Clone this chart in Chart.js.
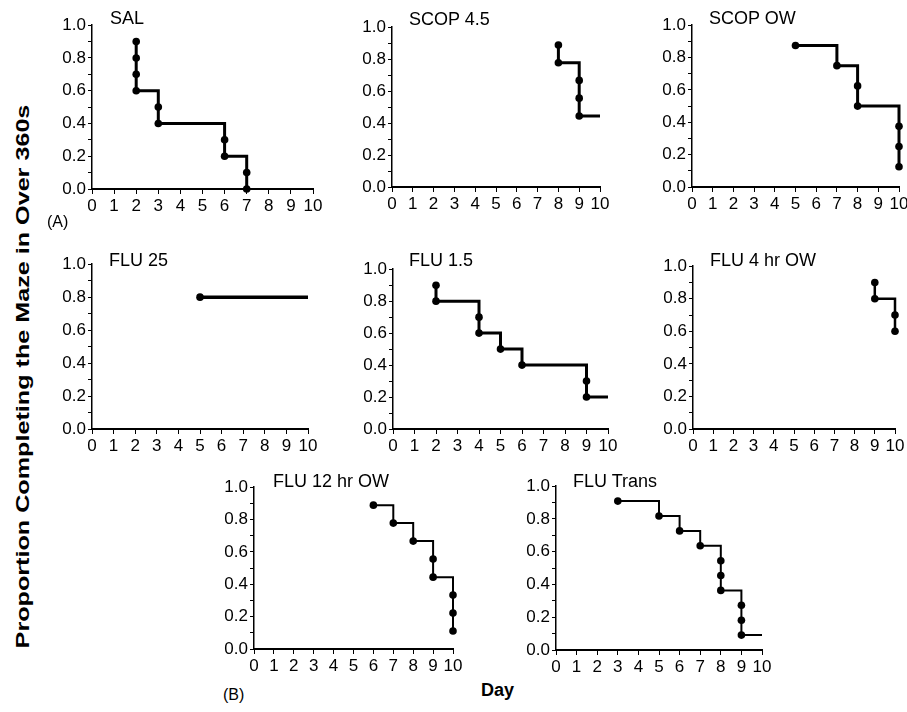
<!DOCTYPE html>
<html>
<head>
<meta charset="utf-8">
<script src="https://cdn.jsdelivr.net/npm/chart.js@4.4.0/dist/chart.umd.min.js"></script>
<style>
html, body { margin: 0; padding: 0; background: #fff; }
body { width: 907px; height: 712px; position: relative; overflow: hidden; font-family: "Liberation Sans", Arial, sans-serif; color: #000; }
canvas.panel { position: absolute; }
.lbl { position: absolute; white-space: nowrap; line-height: 1; }
</style>
</head>
<body>
<script>
// Kaplan-Meier style data, one pair of arrays per panel (day, proportion)
const salDays = [2, 2, 2, 2, 3, 3, 6, 6, 7, 7];
const salProp = [0.9, 0.8, 0.7, 0.6, 0.5, 0.4, 0.3, 0.2, 0.1, 0.0];

const scop45Days = [8, 8, 9, 9, 9];
const scop45Prop = [0.889, 0.778, 0.667, 0.556, 0.444];

const scopOwDays = [5, 7, 8, 8, 10, 10, 10];
const scopOwProp = [0.875, 0.75, 0.625, 0.5, 0.375, 0.25, 0.125];

const flu25Days = [5];
const flu25Prop = [0.8];

const flu15Days = [2, 2, 4, 4, 5, 6, 9, 9];
const flu15Prop = [0.9, 0.8, 0.7, 0.6, 0.5, 0.4, 0.3, 0.2];

const flu4Days = [9, 9, 10, 10];
const flu4Prop = [0.9, 0.8, 0.7, 0.6];

const flu12Days = [6, 7, 8, 9, 9, 10, 10, 10];
const flu12Prop = [0.889, 0.778, 0.667, 0.556, 0.444, 0.333, 0.222, 0.111];

const fluTransDays = [3, 5, 6, 7, 8, 8, 8, 9, 9, 9];
const fluTransProp = [0.909, 0.818, 0.727, 0.636, 0.545, 0.455, 0.364, 0.273, 0.182, 0.091];

// last day of follow-up (curve continues flat without a marker), null if none
const followUpEnd = { sal: null, scop45: 10, scopOw: null, flu25: 10, flu15: 10, flu4: null, flu12: null, fluTrans: 10 };

const dayTicks = [0, 1, 2, 3, 4, 5, 6, 7, 8, 9, 10];

// panel layout: plot box [left, right, top, bottom], title position, curve width
const panels = [
    { key: 'sal', title: 'SAL', days: salDays, prop: salProp, box: [92, 313, 25, 189], tpos: [110, 18], lw: 3 },
    { key: 'scop45', title: 'SCOP 4.5', days: scop45Days, prop: scop45Prop, box: [392, 600, 27, 187], tpos: [409, 19], lw: 3 },
    { key: 'scopOw', title: 'SCOP OW', days: scopOwDays, prop: scopOwProp, box: [692, 899, 25, 187], tpos: [709, 18], lw: 3 },
    { key: 'flu25', title: 'FLU 25', days: flu25Days, prop: flu25Prop, box: [92, 308, 264, 429], tpos: [109, 260], lw: 3.5 },
    { key: 'flu15', title: 'FLU 1.5', days: flu15Days, prop: flu15Prop, box: [393, 608, 269, 429], tpos: [409, 260], lw: 3 },
    { key: 'flu4', title: 'FLU 4 hr OW', days: flu4Days, prop: flu4Prop, box: [693, 895, 266, 429], tpos: [710, 260], lw: 2.5 },
    { key: 'flu12', title: 'FLU 12 hr OW', days: flu12Days, prop: flu12Prop, box: [254, 453, 487, 649], tpos: [273, 481], lw: 2 },
    { key: 'fluTrans', title: 'FLU Trans', days: fluTransDays, prop: fluTransProp, box: [556, 762, 486, 650], tpos: [573, 481], lw: 2 }
];

const YW = 40, XH = 26, PT = 12, PR = 14;
const FONT = '"Liberation Sans", Arial, sans-serif';

function addLabel(text, x, y, css) {
    const d = document.createElement('div');
    d.className = 'lbl';
    d.textContent = text;
    d.style.left = x + 'px';
    d.style.top = y + 'px';
    Object.assign(d.style, css || {});
    document.body.appendChild(d);
    return d;
}

panels.forEach(p => {
    const [l, r, t, b] = p.box;
    const cv = document.createElement('canvas');
    cv.className = 'panel';
    cv.width = (r - l) + YW + PR;
    cv.height = (b - t) + PT + XH;
    cv.style.left = (l - YW) + 'px';
    cv.style.top = (t - PT) + 'px';
    document.body.appendChild(cv);

    const n = p.days.length;
    const pts = p.days.map((d, i) => ({ x: d, y: p.prop[i] }));
    const end = followUpEnd[p.key];
    if (end !== null) pts.push({ x: end, y: p.prop[n - 1] });

    new Chart(cv, {
        type: 'scatter',
        data: {
            datasets: [{
                data: pts,
                showLine: true,
                stepped: true,
                borderColor: '#000',
                borderWidth: p.lw,
                pointBackgroundColor: '#000',
                pointBorderWidth: 0,
                pointRadius: ctx => (ctx.dataIndex < n ? 3.8 : 0),
                clip: false
            }]
        },
        options: {
            responsive: false,
            animation: false,
            layout: { padding: { top: PT, right: PR, left: 0, bottom: 0 } },
            plugins: { legend: { display: false }, tooltip: { enabled: false } },
            scales: {
                x: {
                    type: 'linear',
                    min: 0,
                    max: 10,
                    afterFit: s => { s.height = XH; },
                    afterBuildTicks: s => { s.ticks = dayTicks.map(v => ({ value: v })); },
                    ticks: { autoSkip: false, color: '#000', padding: 2, font: { family: FONT, size: 17 }, maxRotation: 0 },
                    grid: { drawOnChartArea: false, drawTicks: true, tickLength: 5, color: '#000', lineWidth: 1 },
                    border: { display: true, color: '#000', width: 2 }
                },
                y: {
                    min: 0,
                    max: 1,
                    afterFit: s => { s.width = YW; },
                    ticks: {
                        stepSize: 0.1,
                        autoSkip: false,
                        color: '#000',
                        padding: 2,
                        font: { family: FONT, size: 17 },
                        callback: v => (Math.round(v * 10) % 2 === 0 ? v.toFixed(1) : '')
                    },
                    grid: { drawOnChartArea: false, drawTicks: true, tickLength: 4, color: '#000', lineWidth: 1 },
                    border: { display: true, color: '#000', width: 1.5 }
                }
            }
        }
    });

    const tl = addLabel(p.title, p.tpos[0], p.tpos[1], { fontSize: '18px' });
    tl.style.transform = 'translateY(-50%)';
});

addLabel('(A)', 47, 222, { fontSize: '16px', transform: 'translateY(-50%)' });
addLabel('(B)', 223, 695, { fontSize: '16px', transform: 'translateY(-50%)' });
addLabel('Day', 481, 690, { fontSize: '18px', fontWeight: 'bold', transform: 'translateY(-50%)' });

// rotated axis title, stretched to the span of the reference
const yt = addLabel('Proportion Completing the Maze in Over 360s', 0, 0, { fontSize: '19px', fontWeight: 'bold' });
const w = yt.offsetWidth, h = yt.offsetHeight;
const span = 544;
yt.style.left = (22 - w / 2) + 'px';
yt.style.top = (376 - h / 2) + 'px';
yt.style.transform = 'rotate(-90deg) scaleX(' + (span / w).toFixed(3) + ')';
</script>
</body>
</html>
